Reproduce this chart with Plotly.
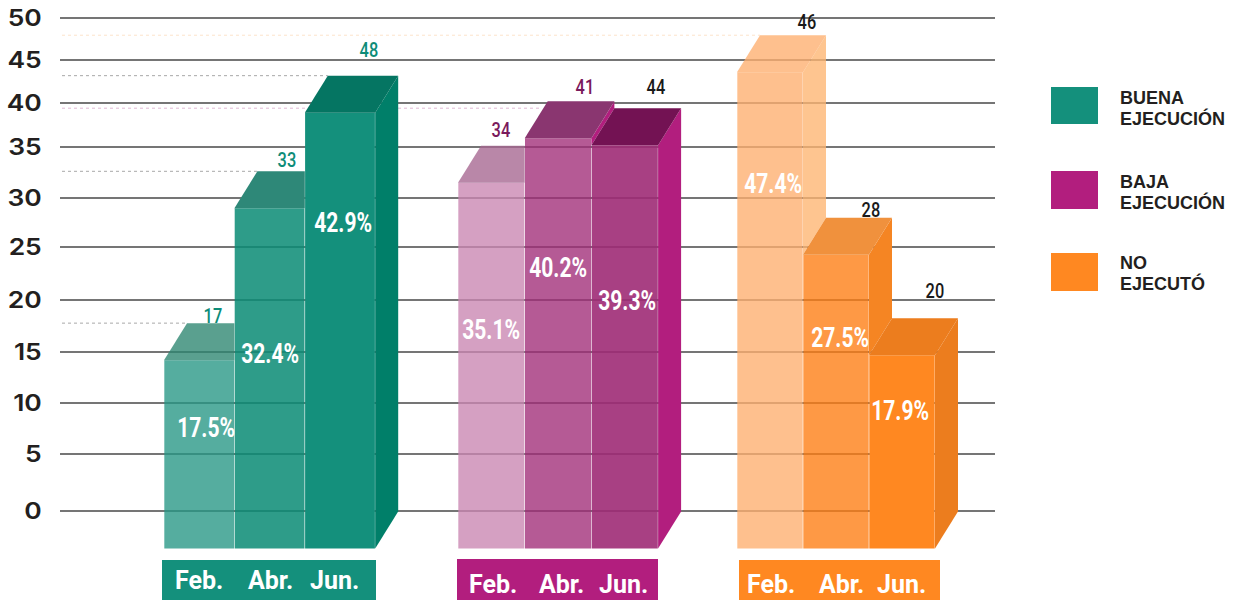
import plotly.graph_objects as go

# ---------- data ----------
months = ["Feb.", "Abr.", "Jun."]
group_names = ["BUENA EJECUCIÓN", "BAJA EJECUCIÓN", "NO EJECUTÓ"]
counts_buena = [17, 33, 48]
counts_baja = [34, 41, 44]
counts_no = [46, 28, 20]
pct_buena = ["17.5%", "32.4%", "42.9%"]
pct_baja = ["35.1%", "40.2%", "39.3%"]
pct_no = ["47.4%", "27.5%", "17.9%"]
# drawn height of each front face, read against the axis (the picture's bars are not to scale)
height_buena = [15.3, 30.7, 40.4]
height_baja = [33.3, 37.8, 37.1]
height_no = [44.5, 26.0, 15.8]
tick_labels = ["0", "5", "10", "15", "20", "25", "30", "35", "40", "45", "50"]
tick_positions = [0, 5.81, 10.92, 16.16, 21.4, 26.74, 31.78, 36.89, 41.38, 45.77, 50]

# ---------- layout constants (pixels of the 1238x600 page) ----------
W, H = 1238, 600
PLOT_L, PLOT_R = 60, 995
ZERO_PX, UNIT_PX = 511, 9.86
def v(py):
    return (ZERO_PX - py) / UNIT_PX
def px(x):
    return (x - PLOT_L) / (PLOT_R - PLOT_L)

BASE = v(548.5)
DEPTH_X, DEPTH_Y = 23, 37 / UNIT_PX
GROUP_X0 = [164, 458, 737]
BAR_W = [70.4, 66.7, 66]
GROUP_H = [height_buena, height_baja, height_no]
GROUP_C = [counts_buena, counts_baja, counts_no]
GROUP_P = [pct_buena, pct_baja, pct_no]

ALPHA = 0.78
def over_white(hex_c, a):
    c = [int(hex_c[i:i + 2], 16) for i in (1, 3, 5)]
    d = [max(0, min(255, round((k - (1 - a) * 255) / a))) for k in c]
    return f"rgba({d[0]},{d[1]},{d[2]},{a})"

FRONT = [["#55AD9F", "#2E9C89", "#14907C"], ["#D5A0C2", "#B55A95", "#A94084"], ["#FEC08E", "#FE9945", "#FF8821"]]
TOP = [["#5AA08F", "#2E8878", "#057562"], ["#B987A8", "#8A3670", "#731253"], ["#FEC08E", "#F0913D", "#EC7D1E"]]
SIDE = [["#007F69", "#007F69", "#007F69"], ["#B21E7E", "#B21E7E", "#B21E7E"], ["#FEC590", "#F58523", "#EC7D1E"]]
FRONT_A = [[ALPHA, 0.86, 1], [ALPHA, ALPHA, 0.9], [ALPHA, ALPHA, 1]]
SWATCH = ["#14907C", "#B21E7E", "#FF8821"]

COUNT_X = [[213, 287, 369], [501, 585, 656], [807, 871, 935]]
COUNT_Y = [[316, 160, 50], [130, 87, 87], [22, 210, 291]]
COUNT_C = [["#0E8C78"] * 3, ["#7A1A5C", "#7A1A5C", "#1a1a1a"], ["#1a1a1a"] * 3]
PCT_X = [[206, 270, 343], [491, 558, 627], [773, 840, 900]]
PCT_Y = [[428, 354, 223], [330, 268, 301], [184, 338, 411]]

BAND_X = [(162, 376), (457, 658), (739, 940)]
BAND_Y = [(560, 600), (559, 600), (560, 600)]
BAND_LX = [[199, 270, 334], [493, 561, 623], [771, 841, 901]]
BAND_LY = [580, 584, 584]

LEG_Y = [(87, 124), (171, 209), (253, 291)]
LEG_LINES = [[("BUENA", 98), ("EJECUCIÓN", 118)], [("BAJA", 182), ("EJECUCIÓN", 202)], [("NO", 263), ("EJECUTÓ", 283)]]

# (group, bar, end of the dotted line, colour)
GUIDES = [(0, 0, None, "#a8a8a8"), (0, 1, None, "#a8a8a8"), (0, 2, None, "#a8a8a8"),
          (1, 2, 540, "#E0B8D4"), (2, 0, None, "#FCE3CB")]

fig = go.Figure()

# dotted guide lines from the axis to the back of a bar
for g, b, end, col in GUIDES:
    back = GROUP_H[g][b] + DEPTH_Y
    x_end = end if end else GROUP_X0[g] + b * BAR_W[g] + DEPTH_X
    fig.add_trace(go.Scatter(x=[PLOT_L + 2, x_end], y=[back, back], mode="lines",
                             line=dict(color=col, width=1, dash="dot"),
                             hoverinfo="skip", showlegend=False))

for g in range(3):
    for b in range(3):
        h = GROUP_H[g][b]
        back = h + DEPTH_Y
        x0 = GROUP_X0[g] + b * BAR_W[g]
        x1 = x0 + BAR_W[g]
        nxt = GROUP_H[g][b + 1] if b < 2 else None
        alpha = FRONT_A[g][b]

        # front face
        fig.add_trace(go.Bar(x=[(x0 + x1) / 2], y=[h - BASE], base=[BASE], width=[BAR_W[g] - 0.6],
                             marker=dict(color=over_white(FRONT[g][b], alpha), line=dict(width=0)),
                             name=f"{group_names[g]} {months[b]}", showlegend=False,
                             customdata=[GROUP_C[g][b]], hovertemplate="%{customdata}<extra></extra>"))

        # side face: only what rises above the next bar
        if nxt is None:
            sx = [x1, x1 + DEPTH_X, x1 + DEPTH_X, x1]
            sy = [h, back, BASE + DEPTH_Y, BASE]
        elif nxt < h:
            sx = [x1, x1 + DEPTH_X, x1 + DEPTH_X, x1]
            sy = [h, back, nxt + DEPTH_Y, nxt]
        else:
            sx = None
        if sx:
            side_a = ALPHA if (g == 2 and b == 0) else 1
            fig.add_trace(go.Scatter(x=sx + sx[:1], y=sy + sy[:1], mode="lines", fill="toself",
                                     fillcolor=over_white(SIDE[g][b], side_a), line=dict(width=0),
                                     hoverinfo="skip", showlegend=False))

        # top face: cut where the next bar stands in front of it
        right_back = x1 if (nxt is not None and nxt > back) else x1 + DEPTH_X
        tx = [x0, x0 + DEPTH_X, right_back, x1]
        ty = [h, back, back, h]
        top_a = ALPHA if b == 0 else 1
        fig.add_trace(go.Scatter(x=tx + tx[:1], y=ty + ty[:1], mode="lines", fill="toself",
                                 fillcolor=over_white(TOP[g][b], top_a), line=dict(width=0),
                                 hoverinfo="skip", showlegend=False))

annotations = []
shapes = []
FACE = "Roboto"
for g in range(3):
    for b in range(3):
        annotations.append(dict(x=COUNT_X[g][b], y=v(COUNT_Y[g][b]), xref="x", yref="y", showarrow=False,
                                text=str(GROUP_C[g][b]),
                                font=dict(family=FACE, size=21, color=COUNT_C[g][b], weight=500)))
        annotations.append(dict(x=PCT_X[g][b], y=v(PCT_Y[g][b]), xref="x", yref="y", showarrow=False,
                                text=GROUP_P[g][b],
                                font=dict(family=FACE, size=27, color="white", weight=700)))
        annotations.append(dict(x=BAND_LX[g][b], y=v(BAND_LY[g]), xref="x", yref="y", showarrow=False,
                                text=months[b],
                                font=dict(family=FACE, size=25, color="white", weight=700)))
    shapes.append(dict(type="rect", xref="x", yref="y", x0=BAND_X[g][0], x1=BAND_X[g][1],
                       y0=v(BAND_Y[g][0]), y1=v(BAND_Y[g][1]), fillcolor=SWATCH[g], line=dict(width=0), layer="below"))
    shapes.append(dict(type="rect", xref="paper", yref="y", x0=px(1051), x1=px(1098),
                       y0=v(LEG_Y[g][0]), y1=v(LEG_Y[g][1]), fillcolor=SWATCH[g], line=dict(width=0)))
    for text, ly in LEG_LINES[g]:
        annotations.append(dict(x=px(1118), y=v(ly), xref="paper", yref="y", xanchor="left", showarrow=False,
                                text=text, font=dict(family="Liberation Sans", size=18, color="#231F20", weight="bold")))

fig.update_layout(
    width=W, height=H, autosize=False,
    margin=dict(l=PLOT_L, r=W - PLOT_R, t=0, b=0),
    paper_bgcolor="white", plot_bgcolor="white",
    barmode="overlay", showlegend=False,
    shapes=shapes, annotations=annotations,
    xaxis=dict(range=[PLOT_L, PLOT_R], visible=False, showgrid=False, zeroline=False, fixedrange=True),
    yaxis=dict(range=[v(H), v(0)], tickmode="array", tickvals=tick_positions, ticktext=tick_labels,
               showgrid=True, gridcolor="#757575", gridwidth=1.5, zeroline=False, showline=False,
               ticks="", ticklabelstandoff=15, fixedrange=True,
               tickfont=dict(family="Inter", size=23, color="#231F20", weight=600)),
)
# page without its default margin; number labels are real text, narrowed or widened horizontally
POST = """
document.body.style.margin='0';document.body.style.overflow='hidden';
document.querySelectorAll('g.annotation text').forEach(function(t){
  if(!/^[0-9]/.test(t.textContent)) return;
  var b=t.getBBox(); var c=b.x+b.width/2;
  t.setAttribute('transform','translate('+c+',0) scale(0.78,1) translate('+(-c)+',0)');
});
document.querySelectorAll('g.ytick text').forEach(function(t){
  var b=t.getBBox(); var r=b.x+b.width;
  var old=t.getAttribute('transform')||'';
  t.setAttribute('transform','translate('+r+',0) scale(1.15,1) translate('+(-r)+',0) '+old);
});
"""
fig.write_html("out.html", config=dict(displayModeBar=False), post_script=POST)
